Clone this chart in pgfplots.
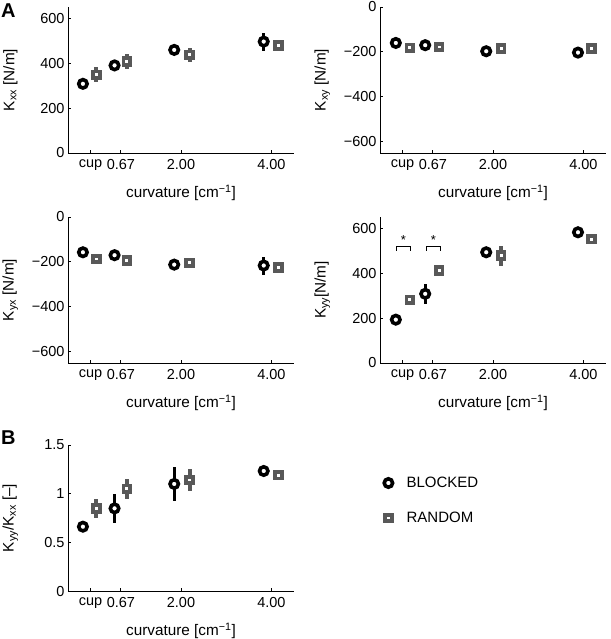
\documentclass[border=0pt]{standalone}
\usepackage{pgfplots}
\pgfplotsset{compat=1.18}
\usepackage{fontspec}
\setmainfont{Liberation Sans}
\definecolor{rgray}{RGB}{88,88,88}
\pgfplotsset{
  panel/.style={
    scale only axis, width=226pt, height=146pt,
    xmin=-0.5, xmax=4.5,
    axis x line*=bottom, axis y line*=left,
    axis line style={-, line width=0.9pt, black},
    tick align=inside, major tick length=3pt,
    tick style={line width=0.9pt, black},
    xtick={0,0.67,2,4}, xticklabels={cup,0.67,2.00,4.00},
    tick label style={font=\fontsize{14.5}{16}\selectfont},
    xticklabel style={yshift=-3pt},
    label style={font=\fontsize{15.3}{17}\selectfont},
    xlabel={curvature [cm\textsuperscript{−1}]},
    xlabel style={at={(axis description cs:0.5,-0.275)}, anchor=center},
    ylabel style={at={(axis description cs:-0.255,0.5)}, anchor=center},
    clip=false,
  },
  blocked/.style={
    only marks, mark=*, mark size=4.2pt,
    mark options={draw=black, fill=white, line width=3.6pt},
    error bars/.cd, y dir=both, y explicit,
    error mark=none, error bar style={line width=3.2pt, black},
  },
  random/.style={
    only marks, mark=square*, mark size=3.3pt,
    mark options={draw=rgray, fill=white, line width=3.8pt},
    error bars/.cd, y dir=both, y explicit,
    error mark=none, error bar style={line width=4pt, rgray},
  },
}
\begin{document}
\begin{tikzpicture}
\useasboundingbox (0pt,0pt) rectangle (610pt,-639pt);
% Panel labels
\node[anchor=north west, font=\fontsize{20}{21}\bfseries\selectfont, inner sep=0pt] at (1pt,-4pt) {A};
\node[anchor=north west, font=\fontsize{20}{21}\bfseries\selectfont, inner sep=0pt] at (1pt,-431pt) {B};

% Kxx
\begin{axis}[panel, at={(68pt,-153pt)}, anchor=south west,
  ymin=0, ymax=650, ytick={0,200,400,600}, yticklabels={0,200,400,600},
  ylabel={K\textsubscript{xx} [N/m]}]
\addplot[blocked] coordinates {(-0.17,308) +- (0,15) (0.53,390) +- (0,26) (1.85,459) +- (0,20) (3.83,496) +- (0,40)};
\addplot[random] coordinates {(0.13,348) +- (0,33) (0.80,407) +- (0,33) (2.19,437) +- (0,30) (4.16,478) +- (0,10)};
\end{axis}

% Kxy
\begin{axis}[panel, at={(380pt,-153pt)}, anchor=south west,
  ymin=-650, ymax=0, ytick={-600,-400,-200,0}, yticklabels={−600,−400,−200,0},
  ylabel={K\textsubscript{xy} [N/m]}]
\addplot[blocked] coordinates {(-0.15,-160) +- (0,8) (0.50,-170) +- (0,12) (1.85,-197) +- (0,10) (3.88,-203) +- (0,25)};
\addplot[random] coordinates {(0.16,-182) +- (0,12) (0.81,-178) +- (0,20) (2.18,-185) +- (0,22) (4.18,-185) +- (0,12)};
\end{axis}

% Kyx
\begin{axis}[panel, at={(68pt,-363pt)}, anchor=south west,
  ymin=-650, ymax=0, ytick={-600,-400,-200,0}, yticklabels={−600,−400,−200,0},
  ylabel={K\textsubscript{yx} [N/m]}]
\addplot[blocked] coordinates {(-0.17,-157) +- (0,12) (0.53,-170) +- (0,25) (1.85,-212) +- (0,25) (3.83,-216) +- (0,40)};
\addplot[random] coordinates {(0.13,-187) +- (0,10) (0.80,-194) +- (0,15) (2.19,-204) +- (0,20) (4.16,-224) +- (0,10)};
\end{axis}

% Kyy
\begin{axis}[panel, at={(380pt,-363pt)}, anchor=south west,
  ymin=0, ymax=650, ytick={0,200,400,600}, yticklabels={0,200,400,600},
  ylabel={K\textsubscript{yy}[N/m]}]
\addplot[blocked] coordinates {(-0.15,193) +- (0,10) (0.50,308) +- (0,45) (1.85,493) +- (0,12) (3.88,582) +- (0,12)};
\addplot[random] coordinates {(0.16,281) +- (0,10) (0.81,412) +- (0,25) (2.18,478) +- (0,45) (4.18,551) +- (0,10)};
\draw[line width=1pt] (axis cs:-0.13,500) -- (axis cs:-0.13,518) -- (axis cs:0.17,518) -- (axis cs:0.17,500);
\draw[line width=1pt] (axis cs:0.52,500) -- (axis cs:0.52,518) -- (axis cs:0.84,518) -- (axis cs:0.84,500);
\node[font=\fontsize{13}{14}\selectfont] at (axis cs:0.02,548) {*};
\node[font=\fontsize{13}{14}\selectfont] at (axis cs:0.68,548) {*};
\end{axis}

% B
\begin{axis}[panel, at={(68pt,-591pt)}, anchor=south west,
  ymin=0, ymax=1.5, ytick={0,0.5,1,1.5}, yticklabels={0,0.5,1,1.5},
  ylabel={K\textsubscript{yy}/K\textsubscript{xx} [–]},
  legend style={at={(axis description cs:1.385,0.62)}, anchor=west, draw=none, fill=none,
    font=\fontsize{15}{17}\selectfont, row sep=19pt,
    nodes={inner sep=2pt}},
  legend cell align=left,
  legend image code/.code={\draw[#1] plot coordinates {(0pt,0pt)}; \path (16pt,0pt);}]
\addplot[blocked] coordinates {(-0.17,0.661) +- (0,0.03) (0.53,0.849) +- (0,0.15) (1.85,1.10) +- (0,0.175) (3.83,1.233) +- (0,0.03)};
\addlegendentry{BLOCKED}
\addplot[random] coordinates {(0.13,0.849) +- (0,0.095) (0.80,1.05) +- (0,0.10) (2.19,1.14) +- (0,0.115) (4.16,1.19) +- (0,0.03)};
\addlegendentry{RANDOM}
\end{axis}
\end{tikzpicture}
\end{document}
